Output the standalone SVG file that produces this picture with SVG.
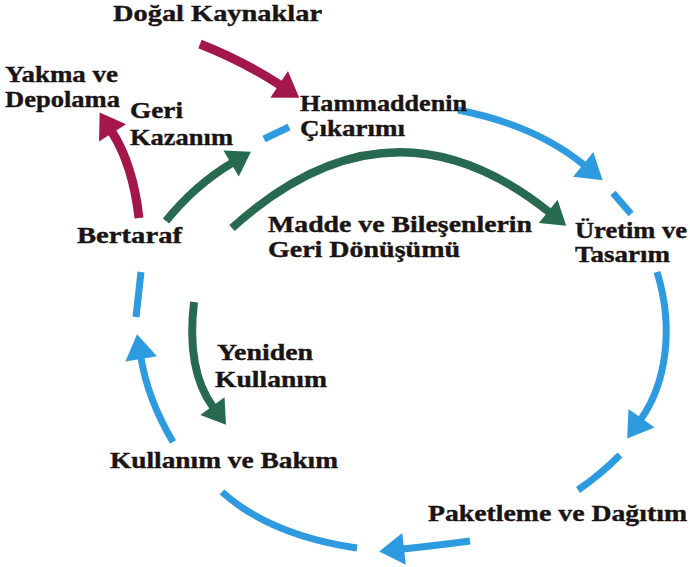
<svg xmlns="http://www.w3.org/2000/svg" width="690" height="567" viewBox="0 0 690 567">
<style>
.t{font-family:"Liberation Serif","Times New Roman",serif;font-weight:bold;font-size:24px;fill:#1a1414;stroke:#1a1414;stroke-width:0.4}
.b{fill:none;stroke:#2E9BE0;stroke-width:7}
.r{fill:none;stroke:#A3174A;stroke-width:9}
.g{fill:none;stroke:#276A4F;stroke-width:8}
</style>
<defs>
<marker id="hb" markerUnits="userSpaceOnUse" markerWidth="28" markerHeight="34" refX="1" refY="16" orient="auto" overflow="visible"><path d="M0,0 L25,16 L0,32 Z" fill="#2E9BE0"/></marker>
<marker id="hr" markerUnits="userSpaceOnUse" markerWidth="28" markerHeight="34" refX="1" refY="16" orient="auto" overflow="visible"><path d="M0,0 L24,16 L0,32 Z" fill="#A3174A"/></marker>
<marker id="hg" markerUnits="userSpaceOnUse" markerWidth="28" markerHeight="32" refX="1" refY="15" orient="auto" overflow="visible"><path d="M0,0 L23,15 L0,30 Z" fill="#276A4F"/></marker>
</defs>
<rect width="690" height="567" fill="#ffffff"/>
<g id="connectors">
<path class="r" d="M200,44 Q245,62 280,85" marker-end="url(#hr)"/>
<path class="r" d="M139,218 Q133,165 112,132" marker-end="url(#hr)"/>
<path class="g" d="M166,221 Q195,185 232,163" marker-end="url(#hg)"/>
<path class="g" d="M232,228 Q390,85 549,212" marker-end="url(#hg)"/>
<path class="g" d="M194,302 Q186,370 213,407" marker-end="url(#hg)"/>
<path class="b" d="M458,110 Q535,125 584,165" marker-end="url(#hb)"/>
<path class="b" d="M613,193 L631,214"/>
<path class="b" d="M657,272 C675,330 665,385 641,419" marker-end="url(#hb)"/>
<path class="b" d="M620,455 Q600,475 578,490"/>
<path class="b" d="M470,541 Q440,545 403,549" marker-end="url(#hb)"/>
<path class="b" d="M222,492 Q270,535 357,548"/>
<path class="b" d="M173,442 Q148,400 141,358" marker-end="url(#hb)"/>
<path class="b" d="M141,272 L136,317"/>
<path class="b" d="M264,139 L289,127"/>
</g>
<g id="dogal-kaynaklar"><text class="t" x="113" y="21" textLength="209" lengthAdjust="spacingAndGlyphs">Doğal Kaynaklar</text></g>
<g id="yakma-depolama"><text class="t" x="5" y="82" textLength="113" lengthAdjust="spacingAndGlyphs">Yakma ve</text><text class="t" x="5" y="107" textLength="115" lengthAdjust="spacingAndGlyphs">Depolama</text></g>
<g id="geri-kazanim"><text class="t" x="130" y="118" textLength="53" lengthAdjust="spacingAndGlyphs">Geri</text><text class="t" x="130" y="145" textLength="103" lengthAdjust="spacingAndGlyphs">Kazanım</text></g>
<g id="hammadde"><text class="t" x="300" y="111" textLength="167" lengthAdjust="spacingAndGlyphs">Hammaddenin</text><text class="t" x="300" y="136" textLength="105" lengthAdjust="spacingAndGlyphs">Çıkarımı</text></g>
<g id="bertaraf"><text class="t" x="77" y="243" textLength="105" lengthAdjust="spacingAndGlyphs">Bertaraf</text></g>
<g id="geri-donusum"><text class="t" x="268" y="232" textLength="264" lengthAdjust="spacingAndGlyphs">Madde ve Bileşenlerin</text><text class="t" x="268" y="257" textLength="192" lengthAdjust="spacingAndGlyphs">Geri Dönüşümü</text></g>
<g id="uretim"><text class="t" x="575" y="238" textLength="112" lengthAdjust="spacingAndGlyphs">Üretim ve</text><text class="t" x="575" y="262" textLength="95" lengthAdjust="spacingAndGlyphs">Tasarım</text></g>
<g id="yeniden-kullanim"><text class="t" x="217" y="360" textLength="96" lengthAdjust="spacingAndGlyphs">Yeniden</text><text class="t" x="215" y="387" textLength="112" lengthAdjust="spacingAndGlyphs">Kullanım</text></g>
<g id="kullanim-bakim"><text class="t" x="110" y="468" textLength="228" lengthAdjust="spacingAndGlyphs">Kullanım ve Bakım</text></g>
<g id="paketleme"><text class="t" x="428" y="521" textLength="259" lengthAdjust="spacingAndGlyphs">Paketleme ve Dağıtım</text></g>
</svg>
